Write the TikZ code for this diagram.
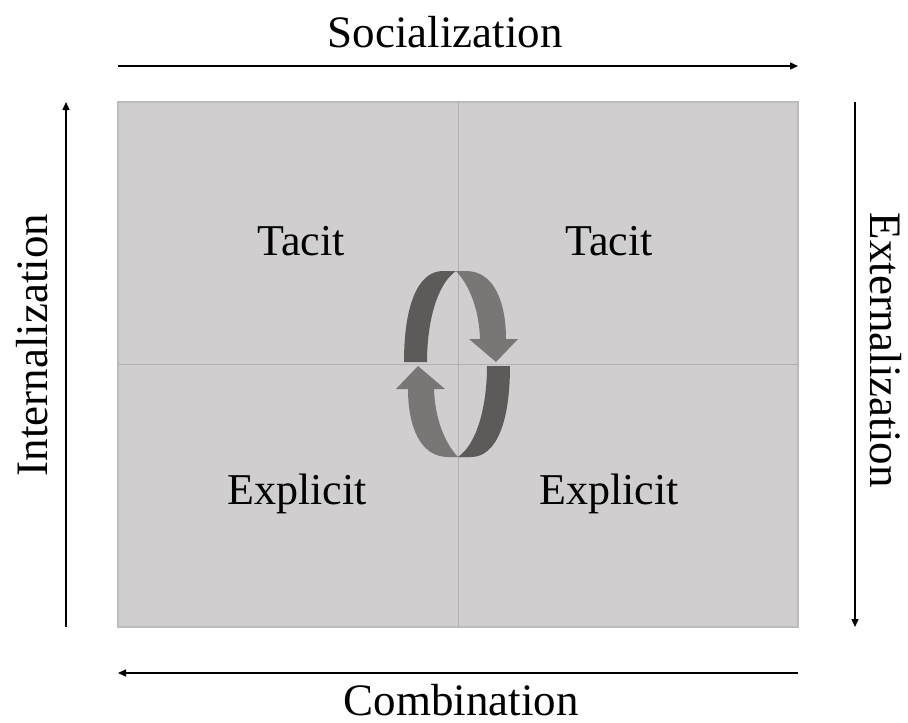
\documentclass[tikz,border=0pt]{standalone}
\usepackage{fontspec}
\setmainfont{Liberation Serif}
\usetikzlibrary{arrows.meta}
\definecolor{boxfill}{HTML}{D0CECF}
\definecolor{boxline}{HTML}{BDBBBB}
\definecolor{midline}{HTML}{B2B0B0}
\definecolor{ribdark}{HTML}{5E5A5A}
\definecolor{riblight}{HTML}{7A7676}
\tikzset{
  axis/.style={line width=1.3pt,-{Triangle[length=8pt,width=7pt]}},
  quad/.style={font=\fontsize{44}{50}\selectfont},
  lbl/.style={font=\fontsize{45}{52}\selectfont, inner sep=0pt},
}
\newcommand\myribbonhalf{%
  \fill[ribdark] (404,362) .. controls (404,305) and (418,271) .. (443,271) -- (456,271)
    .. controls (437,284) and (427,322) .. (427,362) -- cycle;
  \fill[riblight] (443,271) -- (466,271) .. controls (494,271) and (506,302) .. (506,339)
    -- (518,339) -- (496,362) -- (469,339) -- (480,339)
    .. controls (479,310) and (470,286) .. (456,271) -- cycle;
}
\begin{document}
\begin{tikzpicture}[x=1pt,y=-1pt]
\useasboundingbox (0,0) rectangle (908,723);
\fill[white] (0,0) rectangle (908,723);
\coordinate (TL) at (118,102);
\coordinate (BR) at (798,627);
\draw[boxline, fill=boxfill, line width=1.2pt] (TL) rectangle (BR);
\draw[midline, line width=1pt] (458,102) -- (458,627);
\draw[midline, line width=1pt] (118,364) -- (798,364);

\node[quad] (t1) at (301,241) {Tacit};
\node[quad] (t2) at (609,241) {Tacit};
\node[quad] (e1) at (297,494) {Explicit};
\node[quad] (e2) at (609,494) {Explicit};

% cycle ribbon arrows
\begin{scope}
\myribbonhalf
\end{scope}
\begin{scope}[rotate around={180:(457,364)}]
\myribbonhalf
\end{scope}

% outer axes
\coordinate (s1) at (118,66);
\coordinate (s2) at (798,66);
\coordinate (x1) at (855,102);
\coordinate (x2) at (855,627);
\coordinate (c1) at (798,673);
\coordinate (c2) at (118,673);
\coordinate (i1) at (66,627);
\coordinate (i2) at (66,102);
\draw[axis] (s1) -- (s2);
\draw[axis] (x1) -- (x2);
\draw[axis] (c1) -- (c2);
\draw[axis] (i1) -- (i2);

\node[lbl, anchor=base] (soc) at (445,47) {Socialization};
\node[lbl, anchor=base] (com) at (461,715) {Combination};
\node[lbl, rotate=90, anchor=base] (int) at (47,345) {Internalization};
\node[lbl, rotate=-90, anchor=base] (ext) at (870,350) {Externalization};
\end{tikzpicture}
\end{document}
